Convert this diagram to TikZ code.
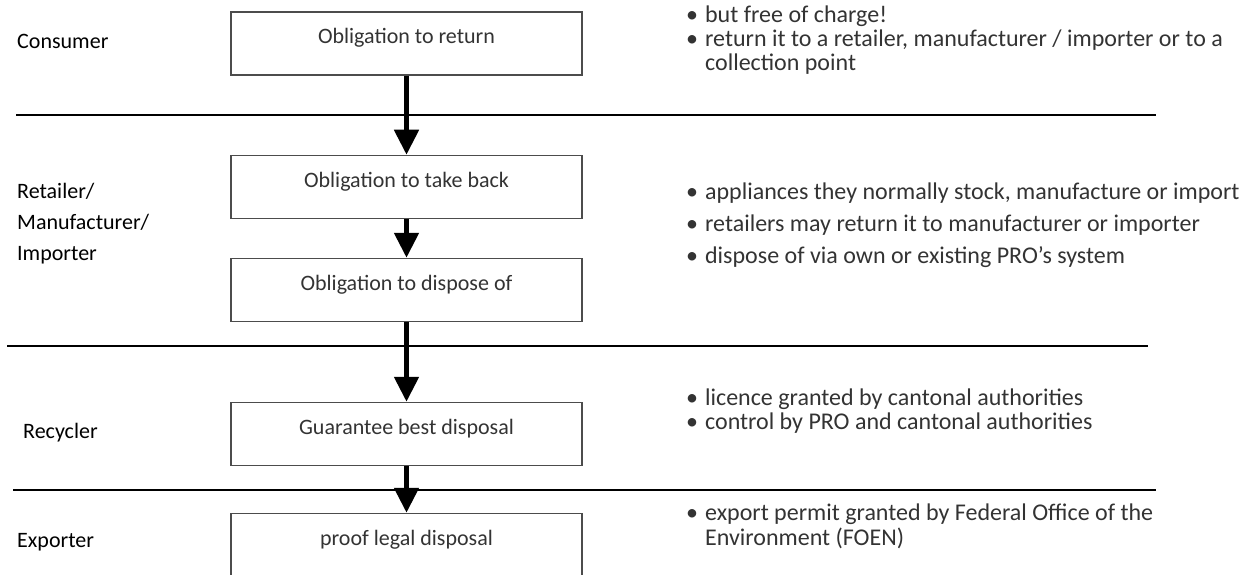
\documentclass[tikz,border=0pt]{standalone}
\usepackage{fontspec}
\setmainfont{Carlito}
\usetikzlibrary{arrows.meta}

\begin{document}
\begin{tikzpicture}[x=1pt,y=-1pt,
  duty/.style={draw=black!70, line width=1.5pt, minimum width=351pt, minimum height=63pt,
    text height=12pt, text depth=12pt, text=black!80, font=\fontsize{22}{26}\selectfont},
  role/.style={anchor=west, inner sep=0pt, align=left, font=\fontsize{22}{31}\selectfont},
  notes/.style={anchor=west, inner sep=0pt, text=black!80, font=\fontsize{24}{24}\selectfont},
  flow/.style={line width=5pt, -{Triangle[width=24pt,length=25pt]}},
  divider/.style={line width=1.4pt}]
  \useasboundingbox (0,0) rectangle (1251,575);
  \clip (0,0) rectangle (1251,575);
  % 三条分隔线
  \draw[divider] (16,115) -- (1156,115);
  \draw[divider] (7,346) -- (1148,346);
  \draw[divider] (13,490) -- (1156,490);
  % 左侧角色
  \node[role] (consumer) at (17,41) {Consumer};
  \node[role] (retailer) at (17,224) {Retailer/\\Manufacturer/\\Importer};
  \node[role] (recycler) at (23,433) {Recycler};
  \node[role] (exporter) at (17,542) {Exporter};
  % 义务方框
  \node[duty] (return) at (406.5,43.5) {Obligation to return};
  \node[duty] (takeback) at (406.5,187) {Obligation to take back};
  \node[duty] (dispose) at (406.5,290) {Obligation to dispose of};
  \node[duty] (guarantee) at (406.5,434) {Guarantee best disposal};
  \node[duty] (proof) at (406.5,545) {proof legal disposal};
  % 向下的粗箭头
  \draw[flow] (return) -- (takeback);
  \draw[flow] (takeback) -- (dispose);
  \draw[flow] (dispose) -- (guarantee);
  \draw[flow] (guarantee) -- (proof);
  % 右侧说明
  \node[notes] (note1) at (686,42) {\begin{tabular}{@{}l@{\hspace{7pt}}l@{}}
    \textbullet & but free of charge!\\
    \textbullet & return it to a retailer, manufacturer / importer or to a\\
    & collection point\end{tabular}};
  \node[notes, font=\fontsize{24}{32}\selectfont] (note2) at (686,225) {\begin{tabular}{@{}l@{\hspace{7pt}}l@{}}
    \textbullet & appliances they normally stock, manufacture or import\\
    \textbullet & retailers may return it to manufacturer or importer\\
    \textbullet & dispose of via own or existing PRO's system\end{tabular}};
  \node[notes] (note3) at (686,413) {\begin{tabular}{@{}l@{\hspace{7pt}}l@{}}
    \textbullet & licence granted by cantonal authorities\\
    \textbullet & control by PRO and cantonal authorities\end{tabular}};
  \node[notes] (note4) at (686,528) {\begin{tabular}{@{}l@{\hspace{7pt}}l@{}}
    \textbullet & export permit granted by Federal Office of the\\
    & Environment (FOEN)\end{tabular}};
\end{tikzpicture}
\end{document}
